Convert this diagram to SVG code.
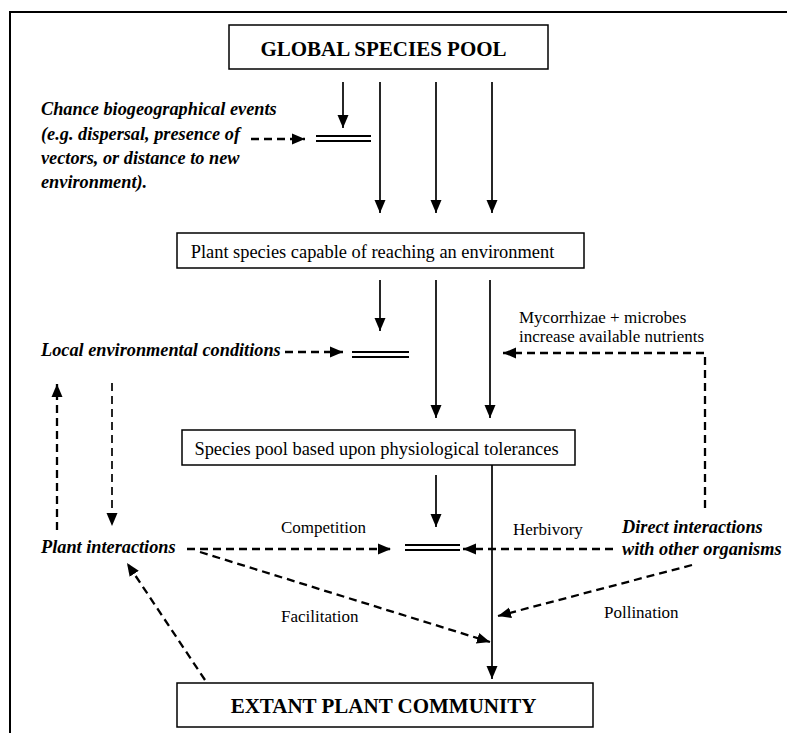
<svg xmlns="http://www.w3.org/2000/svg" width="787" height="733" viewBox="0 0 787 733">
<defs>
<marker id="ah" markerUnits="userSpaceOnUse" markerWidth="14" markerHeight="14" viewBox="0 0 14 14" refX="13" refY="7" orient="auto">
<path d="M0,1.5 L13,7 L0,12.5 Z" fill="#000"/>
</marker>
</defs>
<rect x="0" y="0" width="787" height="733" fill="#fff"/>
<path d="M10,800 L10,12 L800,12" fill="none" stroke="#000" stroke-width="2"/>

<g id="global-pool">
<rect x="229" y="25" width="319" height="44" fill="#fff" stroke="#000" stroke-width="1.5"/>
<text font-family="Liberation Serif, serif" font-size="21" font-weight="bold" x="383.5" y="56" text-anchor="middle">GLOBAL SPECIES POOL</text>
</g>

<g id="chance-events" font-family="Liberation Serif, serif" font-size="18.3" font-weight="bold" font-style="italic">
<text x="41" y="115">Chance biogeographical events</text>
<text x="41" y="140">(e.g. dispersal, presence of</text>
<text x="41" y="164">vectors, or distance to new</text>
<text x="41" y="188">environment).</text>
</g>

<g id="reaching">
<rect x="177" y="233" width="407" height="35" fill="#fff" stroke="#000" stroke-width="1.5"/>
<text font-family="Liberation Serif, serif" font-size="18.4" x="372.5" y="258" text-anchor="middle">Plant species capable of reaching an environment</text>
</g>

<g id="local-env">
<text font-family="Liberation Serif, serif" font-size="18.3" font-weight="bold" font-style="italic" x="41" y="356">Local environmental conditions</text>
</g>

<g id="mycorrhizae" font-family="Liberation Serif, serif" font-size="17">
<text x="519" y="323">Mycorrhizae + microbes</text>
<text x="519" y="342">increase available nutrients</text>
</g>

<g id="physiological">
<rect x="182" y="430" width="393" height="35" fill="#fff" stroke="#000" stroke-width="1.5"/>
<text font-family="Liberation Serif, serif" font-size="18.4" x="376.5" y="455" text-anchor="middle">Species pool based upon physiological tolerances</text>
</g>

<g id="plant-interactions">
<text font-family="Liberation Serif, serif" font-size="18.3" font-weight="bold" font-style="italic" x="41" y="553">Plant interactions</text>
</g>

<g id="direct-interactions" font-family="Liberation Serif, serif" font-size="18.3" font-weight="bold" font-style="italic">
<text x="622" y="533">Direct interactions</text>
<text x="622" y="555">with other organisms</text>
</g>

<g id="extant">
<rect x="177" y="683" width="416" height="44" fill="#fff" stroke="#000" stroke-width="1.5"/>
<text font-family="Liberation Serif, serif" font-size="21" font-weight="bold" x="383.5" y="713" text-anchor="middle">EXTANT PLANT COMMUNITY</text>
</g>

<g id="filters" stroke="#000" stroke-width="2" fill="none">
<path d="M316,136 H371 M316,141 H371"/>
<path d="M352,352 H409 M352,357 H409"/>
<path d="M405,545 H460 M405,550 H460"/>
</g>

<g id="connectors" stroke="#000" fill="none">
<g stroke-width="1.7">
<line x1="343" y1="82" x2="343" y2="128" marker-end="url(#ah)"/>
<line x1="380" y1="82" x2="380" y2="213" marker-end="url(#ah)"/>
<line x1="436" y1="82" x2="436" y2="213" marker-end="url(#ah)"/>
<line x1="492" y1="82" x2="492" y2="213" marker-end="url(#ah)"/>
<line x1="380" y1="280" x2="380" y2="331" marker-end="url(#ah)"/>
<line x1="436" y1="280" x2="436" y2="418" marker-end="url(#ah)"/>
<line x1="490" y1="280" x2="490" y2="418" marker-end="url(#ah)"/>
<line x1="436" y1="475" x2="436" y2="527" marker-end="url(#ah)"/>
<line x1="492" y1="465" x2="492" y2="679" marker-end="url(#ah)"/>
</g>
<g stroke-width="2.3" stroke-dasharray="8,5">
<line x1="251" y1="139" x2="305" y2="139" marker-end="url(#ah)"/>
<line x1="285" y1="352" x2="343" y2="352" marker-end="url(#ah)"/>
<path d="M705,508 V353 H503" marker-end="url(#ah)"/>
<line x1="57" y1="530" x2="57" y2="384" marker-end="url(#ah)"/>
<line x1="112" y1="383" x2="112" y2="526" stroke-width="1.7" marker-end="url(#ah)"/>
<line x1="187" y1="549" x2="391" y2="549" marker-end="url(#ah)"/>
<line x1="613" y1="549" x2="463" y2="549" marker-end="url(#ah)"/>
<line x1="692" y1="565" x2="498" y2="616" marker-end="url(#ah)"/>
<line x1="200" y1="552" x2="490" y2="642" marker-end="url(#ah)"/>
<line x1="205" y1="680" x2="127" y2="563" marker-end="url(#ah)"/>
</g>
</g>

<g id="labels" font-family="Liberation Serif, serif" font-size="17">
<text x="281" y="533">Competition</text>
<text x="513" y="535">Herbivory</text>
<text x="604" y="618">Pollination</text>
<text x="281" y="622">Facilitation</text>
</g>
</svg>
